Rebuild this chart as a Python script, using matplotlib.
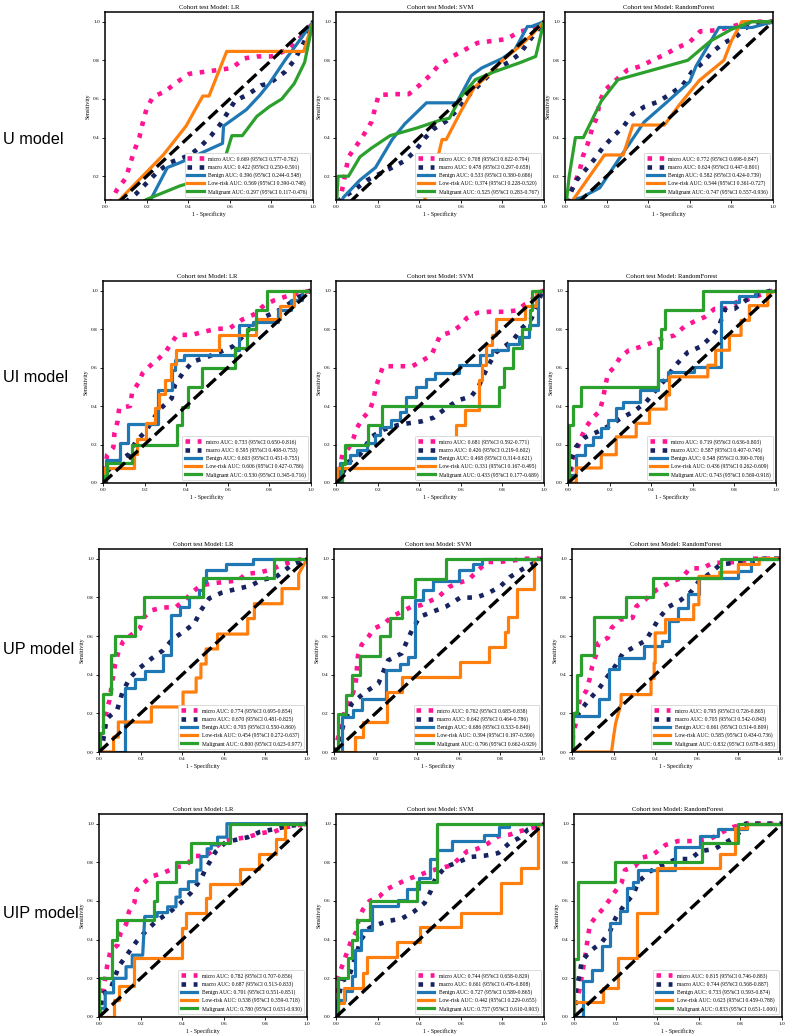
"""
ROC grid: four feature sets (U / UI / UP / UIP) x three classifiers,
micro/macro average plus one curve per class on the test cohort.
"""
import matplotlib
matplotlib.use("Agg")
import matplotlib.pyplot as plt

plt.rcParams["font.family"] = ["Liberation Serif", "DejaVu Serif"]

ROW_NAMES = ["U model", "UI model", "UP model", "UIP model"]
MODELS = ["LR", "SVM", "RandomForest"]
CURVE_NAMES = ["micro", "macro", "Benign", "Low-risk", "Malignant"]

# AUC, CI low, CI high per model (LR, SVM, RF), order as CURVE_NAMES
U_AUC = [[0.669, 0.422, 0.396, 0.569, 0.297], [0.708, 0.478, 0.533, 0.374, 0.525], [0.772, 0.624, 0.582, 0.544, 0.747]]
U_LO = [[0.577, 0.250, 0.244, 0.390, 0.117], [0.622, 0.297, 0.380, 0.228, 0.283], [0.698, 0.447, 0.424, 0.361, 0.557]]
U_HI = [[0.762, 0.591, 0.548, 0.748, 0.476], [0.794, 0.658, 0.686, 0.520, 0.767], [0.847, 0.801, 0.739, 0.727, 0.936]]
UI_AUC = [[0.733, 0.595, 0.603, 0.606, 0.530], [0.681, 0.426, 0.468, 0.331, 0.433], [0.719, 0.587, 0.548, 0.436, 0.743]]
UI_LO = [[0.650, 0.408, 0.451, 0.427, 0.345], [0.592, 0.219, 0.314, 0.167, 0.177], [0.636, 0.407, 0.390, 0.262, 0.569]]
UI_HI = [[0.816, 0.753, 0.755, 0.786, 0.716], [0.771, 0.602, 0.621, 0.495, 0.689], [0.803, 0.745, 0.706, 0.609, 0.918]]
UP_AUC = [[0.774, 0.670, 0.705, 0.454, 0.800], [0.762, 0.642, 0.686, 0.394, 0.796], [0.795, 0.705, 0.661, 0.585, 0.832]]
UP_LO = [[0.695, 0.481, 0.550, 0.272, 0.623], [0.685, 0.464, 0.533, 0.197, 0.662], [0.726, 0.542, 0.514, 0.434, 0.678]]
UP_HI = [[0.854, 0.825, 0.860, 0.637, 0.977], [0.838, 0.786, 0.840, 0.590, 0.929], [0.865, 0.843, 0.809, 0.736, 0.985]]
UIP_AUC = [[0.782, 0.687, 0.701, 0.538, 0.780], [0.744, 0.661, 0.727, 0.442, 0.757], [0.815, 0.744, 0.733, 0.623, 0.833]]
UIP_LO = [[0.707, 0.513, 0.551, 0.359, 0.631], [0.658, 0.476, 0.589, 0.229, 0.610], [0.746, 0.568, 0.593, 0.459, 0.651]]
UIP_HI = [[0.856, 0.833, 0.851, 0.718, 0.930], [0.829, 0.808, 0.865, 0.655, 0.903], [0.883, 0.887, 0.874, 0.788, 1.000]]

# ---- ROC curves, (fpr, tpr) pairs ----
U_LR_MICRO = [(0, 0), (0.03, 0.07), (0.056, 0.128), (0.10, 0.19), (0.12, 0.26), (0.14, 0.33), (0.165, 0.40), (0.18, 0.47), (0.20, 0.55), (0.23, 0.61), (0.29, 0.64), (0.35, 0.69), (0.405, 0.73), (0.475, 0.74), (0.545, 0.75), (0.61, 0.76), (0.67, 0.81), (0.73, 0.82), (0.80, 0.82), (0.89, 0.86), (0.95, 0.93), (1, 1)]
U_LR_MACRO = [(0, 0), (0.08, 0.05), (0.15, 0.11), (0.20, 0.165), (0.25, 0.22), (0.31, 0.27), (0.41, 0.31), (0.465, 0.36), (0.51, 0.41), (0.555, 0.47), (0.59, 0.53), (0.625, 0.59), (0.69, 0.625), (0.75, 0.67), (0.79, 0.68), (0.865, 0.74), (0.91, 0.80), (0.96, 0.90), (1, 1)]
U_LR_BENIGN = [(0, 0), (0.17, 0), (0.22, 0.08), (0.30, 0.245), (0.36, 0.27), (0.565, 0.37), (0.57, 0.46), (0.68, 0.545), (0.745, 0.62), (0.79, 0.68), (0.865, 0.80), (0.94, 0.91), (1, 1)]
U_LR_LOW = [(0, 0), (0.28, 0.31), (0.39, 0.46), (0.47, 0.615), (0.50, 0.615), (0.585, 0.846), (0.955, 0.846), (1, 1)]
U_LR_MAL = [(0, 0), (0.12, 0.03), (0.2, 0.08), (0.36, 0.15), (0.553, 0.21), (0.61, 0.41), (0.66, 0.41), (0.73, 0.51), (0.79, 0.56), (0.85, 0.60), (0.91, 0.68), (0.96, 0.79), (1, 1)]

U_SVM_MICRO = [(0, 0), (0.02, 0.08), (0.036, 0.165), (0.06, 0.30), (0.125, 0.40), (0.17, 0.48), (0.19, 0.56), (0.205, 0.62), (0.28, 0.625), (0.35, 0.625), (0.40, 0.67), (0.45, 0.72), (0.49, 0.77), (0.56, 0.82), (0.62, 0.855), (0.68, 0.89), (0.75, 0.90), (0.82, 0.91), (0.885, 0.95), (0.94, 0.96), (1, 1)]
U_SVM_MACRO = [(0, 0), (0.02, 0.08), (0.09, 0.13), (0.15, 0.18), (0.205, 0.21), (0.27, 0.245), (0.33, 0.28), (0.38, 0.33), (0.43, 0.40), (0.47, 0.445), (0.53, 0.485), (0.585, 0.545), (0.64, 0.62), (0.70, 0.685), (0.76, 0.75), (0.83, 0.79), (0.885, 0.835), (0.925, 0.895), (1, 1)]
U_SVM_BENIGN = [(0, 0), (0.035, 0.09), (0.115, 0.18), (0.19, 0.245), (0.27, 0.39), (0.33, 0.47), (0.435, 0.58), (0.58, 0.58), (0.65, 0.72), (0.70, 0.76), (0.80, 0.81), (0.86, 0.855), (0.92, 0.975), (0.94, 0.975), (1, 1)]
U_SVM_LOW = [(0, 0), (0.40, 0), (0.45, 0.15), (0.49, 0.30), (0.51, 0.39), (0.53, 0.39), (0.60, 0.535), (0.665, 0.66), (0.73, 0.72), (0.80, 0.80), (0.875, 0.865), (0.94, 0.93), (1, 1)]
U_SVM_MAL = [(0, 0), (0.01, 0.20), (0.06, 0.20), (0.115, 0.30), (0.17, 0.345), (0.26, 0.41), (0.39, 0.45), (0.50, 0.49), (0.545, 0.50), (0.60, 0.61), (0.67, 0.70), (0.76, 0.74), (0.89, 0.79), (0.96, 0.82), (1, 1)]

U_RF_MICRO = [(0, 0), (0.024, 0.11), (0.07, 0.225), (0.085, 0.30), (0.11, 0.37), (0.13, 0.445), (0.155, 0.51), (0.167, 0.59), (0.196, 0.65), (0.247, 0.70), (0.30, 0.75), (0.366, 0.77), (0.42, 0.80), (0.48, 0.83), (0.54, 0.865), (0.60, 0.895), (0.65, 0.95), (0.72, 0.955), (0.79, 0.97), (0.85, 0.99), (0.92, 1.0), (1, 1)]
U_RF_MACRO = [(0, 0), (0.024, 0.11), (0.056, 0.18), (0.096, 0.23), (0.143, 0.29), (0.183, 0.35), (0.236, 0.41), (0.283, 0.46), (0.323, 0.52), (0.382, 0.56), (0.446, 0.585), (0.506, 0.625), (0.565, 0.67), (0.61, 0.74), (0.66, 0.785), (0.705, 0.84), (0.764, 0.89), (0.82, 0.92), (0.873, 0.97), (0.92, 0.99), (1, 1)]
U_RF_BENIGN = [(0, 0), (0.04, 0.08), (0.08, 0.09), (0.167, 0.14), (0.26, 0.29), (0.38, 0.48), (0.486, 0.58), (0.60, 0.69), (0.63, 0.77), (0.74, 0.97), (0.90, 0.97), (1, 1)]
U_RF_LOW = [(0, 0), (0.04, 0.08), (0.19, 0.31), (0.28, 0.31), (0.326, 0.465), (0.478, 0.465), (0.55, 0.57), (0.645, 0.695), (0.764, 0.80), (0.80, 0.90), (0.85, 1.0), (1, 1)]
U_RF_MAL = [(0, 0), (0.02, 0.2), (0.05, 0.40), (0.088, 0.40), (0.175, 0.59), (0.255, 0.70), (0.59, 0.80), (0.70, 0.90), (0.80, 0.96), (0.90, 1.0), (1, 1)]

UI_LR_MICRO = [(0, 0), (0.01, 0.08), (0.02, 0.147), (0.05, 0.185), (0.055, 0.259), (0.07, 0.32), (0.078, 0.39), (0.13, 0.40), (0.14, 0.47), (0.17, 0.52), (0.19, 0.57), (0.227, 0.61), (0.266, 0.645), (0.30, 0.68), (0.33, 0.73), (0.357, 0.77), (0.426, 0.77), (0.48, 0.785), (0.54, 0.80), (0.61, 0.805), (0.67, 0.85), (0.724, 0.875), (0.777, 0.926), (0.824, 0.95), (0.91, 0.98), (1, 1)]
UI_LR_MACRO = [(0, 0), (0.02, 0.06), (0.05, 0.095), (0.125, 0.15), (0.16, 0.22), (0.205, 0.267), (0.24, 0.33), (0.27, 0.38), (0.33, 0.44), (0.346, 0.51), (0.383, 0.57), (0.43, 0.63), (0.50, 0.655), (0.56, 0.68), (0.625, 0.71), (0.67, 0.76), (0.72, 0.82), (0.77, 0.86), (0.86, 0.905), (0.93, 0.96), (1, 1)]
UI_LR_BENIGN = [(0, 0), (0.016, 0), (0.016, 0.12), (0.08, 0.12), (0.08, 0.207), (0.12, 0.207), (0.12, 0.305), (0.265, 0.305), (0.265, 0.483), (0.33, 0.483), (0.33, 0.586), (0.345, 0.586), (0.345, 0.638), (0.39, 0.638), (0.39, 0.667), (0.635, 0.667), (0.635, 0.69), (0.655, 0.69), (0.655, 0.82), (0.72, 0.82), (0.72, 0.835), (0.84, 0.835), (0.84, 0.897), (0.905, 0.897), (0.905, 0.95), (0.955, 0.95), (0.955, 1.0), (1, 1)]
UI_LR_LOW = [(0, 0), (0.003, 0), (0.003, 0.078), (0.147, 0.078), (0.147, 0.15), (0.163, 0.15), (0.163, 0.23), (0.205, 0.23), (0.205, 0.31), (0.25, 0.31), (0.25, 0.39), (0.268, 0.39), (0.268, 0.465), (0.297, 0.465), (0.297, 0.535), (0.325, 0.535), (0.325, 0.617), (0.35, 0.617), (0.35, 0.69), (0.557, 0.69), (0.557, 0.77), (0.737, 0.77), (0.737, 0.85), (0.85, 0.85), (0.85, 0.92), (0.92, 0.92), (0.92, 1.0), (1, 1)]
UI_LR_MAL = [(0, 0), (0.003, 0), (0.003, 0.035), (0.02, 0.035), (0.02, 0.103), (0.14, 0.103), (0.14, 0.20), (0.354, 0.20), (0.354, 0.30), (0.38, 0.30), (0.38, 0.397), (0.41, 0.397), (0.41, 0.50), (0.474, 0.50), (0.474, 0.60), (0.633, 0.60), (0.633, 0.70), (0.69, 0.70), (0.69, 0.80), (0.737, 0.80), (0.737, 0.90), (0.79, 0.90), (0.79, 1.0), (1, 1)]

UI_SVM_MICRO = [(0, 0), (0.02, 0.078), (0.03, 0.147), (0.06, 0.18), (0.083, 0.23), (0.10, 0.285), (0.128, 0.336), (0.16, 0.374), (0.18, 0.43), (0.19, 0.495), (0.206, 0.543), (0.226, 0.607), (0.298, 0.607), (0.367, 0.607), (0.41, 0.633), (0.458, 0.664), (0.48, 0.715), (0.50, 0.767), (0.553, 0.784), (0.60, 0.819), (0.628, 0.857), (0.68, 0.885), (0.737, 0.89), (0.81, 0.89), (0.87, 0.897), (0.91, 0.93), (0.93, 0.94), (0.976, 0.99), (1, 1)]
UI_SVM_MACRO = [(0, 0), (0.02, 0.026), (0.06, 0.11), (0.115, 0.147), (0.17, 0.24), (0.226, 0.276), (0.293, 0.30), (0.346, 0.31), (0.41, 0.32), (0.47, 0.34), (0.53, 0.39), (0.587, 0.43), (0.65, 0.45), (0.685, 0.50), (0.71, 0.56), (0.737, 0.62), (0.77, 0.68), (0.85, 0.74), (0.89, 0.80), (0.94, 0.855), (0.99, 0.99), (1, 1)]
UI_SVM_BENIGN = [(0, 0), (0.02, 0), (0.02, 0.103), (0.067, 0.103), (0.067, 0.147), (0.10, 0.147), (0.10, 0.172), (0.147, 0.172), (0.147, 0.207), (0.187, 0.207), (0.187, 0.25), (0.21, 0.25), (0.21, 0.293), (0.266, 0.293), (0.266, 0.328), (0.306, 0.328), (0.306, 0.37), (0.338, 0.37), (0.338, 0.448), (0.385, 0.448), (0.385, 0.50), (0.434, 0.50), (0.434, 0.543), (0.474, 0.543), (0.474, 0.574), (0.593, 0.574), (0.593, 0.613), (0.69, 0.613), (0.69, 0.664), (0.75, 0.664), (0.75, 0.693), (0.828, 0.693), (0.828, 0.724), (0.88, 0.724), (0.88, 0.76), (0.93, 0.76), (0.93, 0.82), (0.97, 0.82), (0.97, 1.0), (1, 1)]
UI_SVM_LOW = [(0, 0), (0.003, 0), (0.003, 0.078), (0.577, 0.078), (0.577, 0.30), (0.62, 0.30), (0.62, 0.38), (0.688, 0.38), (0.688, 0.535), (0.70, 0.535), (0.70, 0.613), (0.72, 0.613), (0.72, 0.715), (0.75, 0.715), (0.75, 0.767), (0.77, 0.767), (0.77, 0.85), (0.91, 0.85), (0.91, 0.92), (0.96, 0.92), (0.96, 1.0), (1, 1)]
UI_SVM_MAL = [(0, 0), (0.027, 0), (0.027, 0.10), (0.043, 0.10), (0.043, 0.20), (0.155, 0.20), (0.155, 0.30), (0.22, 0.30), (0.22, 0.40), (0.785, 0.40), (0.785, 0.50), (0.81, 0.50), (0.81, 0.60), (0.85, 0.60), (0.85, 0.70), (0.896, 0.70), (0.896, 0.80), (0.935, 0.80), (0.935, 0.90), (0.94, 0.90), (0.94, 1.0), (1, 1)]

UI_RF_MICRO = [(0, 0), (0.016, 0.07), (0.035, 0.126), (0.048, 0.19), (0.069, 0.25), (0.088, 0.293), (0.117, 0.336), (0.152, 0.374), (0.168, 0.436), (0.179, 0.503), (0.192, 0.569), (0.224, 0.603), (0.251, 0.655), (0.293, 0.69), (0.347, 0.707), (0.405, 0.73), (0.448, 0.75), (0.512, 0.767), (0.56, 0.814), (0.608, 0.84), (0.656, 0.862), (0.704, 0.905), (0.76, 0.908), (0.811, 0.94), (0.872, 0.957), (0.93, 0.98), (0.984, 1.0), (1, 1)]
UI_RF_MACRO = [(0, 0), (0.016, 0.12), (0.04, 0.19), (0.08, 0.236), (0.144, 0.267), (0.203, 0.30), (0.253, 0.336), (0.32, 0.374), (0.376, 0.422), (0.416, 0.474), (0.464, 0.534), (0.517, 0.612), (0.576, 0.68), (0.64, 0.71), (0.688, 0.76), (0.725, 0.81), (0.752, 0.90), (0.80, 0.905), (0.856, 0.95), (0.912, 0.98), (0.976, 1.0), (1, 1)]
UI_RF_BENIGN = [(0, 0), (0.01, 0), (0.01, 0.04), (0.037, 0.04), (0.037, 0.147), (0.08, 0.147), (0.08, 0.195), (0.12, 0.195), (0.12, 0.24), (0.157, 0.24), (0.157, 0.284), (0.192, 0.284), (0.192, 0.328), (0.232, 0.328), (0.232, 0.388), (0.264, 0.388), (0.264, 0.422), (0.344, 0.422), (0.344, 0.483), (0.432, 0.483), (0.432, 0.534), (0.48, 0.534), (0.48, 0.578), (0.608, 0.578), (0.608, 0.603), (0.736, 0.603), (0.736, 0.94), (0.824, 0.94), (0.824, 0.974), (0.904, 0.974), (0.904, 1.0), (1, 1)]
UI_RF_LOW = [(0, 0), (0.04, 0), (0.04, 0.078), (0.16, 0.078), (0.16, 0.147), (0.232, 0.147), (0.232, 0.24), (0.328, 0.24), (0.328, 0.31), (0.392, 0.31), (0.392, 0.384), (0.472, 0.384), (0.472, 0.457), (0.488, 0.457), (0.488, 0.552), (0.672, 0.552), (0.672, 0.612), (0.71, 0.612), (0.71, 0.69), (0.776, 0.69), (0.776, 0.767), (0.832, 0.767), (0.832, 0.845), (0.872, 0.845), (0.872, 0.922), (0.96, 0.922), (0.96, 0.983), (1, 1)]
UI_RF_MAL = [(0, 0), (0.003, 0), (0.003, 0.30), (0.024, 0.30), (0.024, 0.40), (0.064, 0.40), (0.064, 0.50), (0.432, 0.50), (0.432, 0.70), (0.448, 0.70), (0.448, 0.80), (0.464, 0.80), (0.464, 0.90), (0.648, 0.90), (0.648, 1.0), (1, 1)]

UP_LR_MICRO = [(0, 0), (0.01, 0.06), (0.02, 0.10), (0.037, 0.215), (0.05, 0.267), (0.065, 0.37), (0.077, 0.45), (0.093, 0.517), (0.116, 0.572), (0.156, 0.607), (0.196, 0.638), (0.215, 0.695), (0.252, 0.733), (0.308, 0.747), (0.37, 0.75), (0.41, 0.784), (0.45, 0.828), (0.49, 0.862), (0.555, 0.874), (0.61, 0.88), (0.67, 0.888), (0.707, 0.922), (0.77, 0.928), (0.835, 0.946), (0.88, 0.97), (0.93, 0.985), (0.98, 1.0), (1, 1)]
UP_LR_MACRO = [(0, 0), (0.02, 0.06), (0.037, 0.172), (0.088, 0.22), (0.113, 0.31), (0.148, 0.383), (0.196, 0.435), (0.252, 0.483), (0.308, 0.526), (0.356, 0.586), (0.404, 0.62), (0.46, 0.667), (0.49, 0.733), (0.53, 0.795), (0.59, 0.824), (0.66, 0.843), (0.73, 0.86), (0.78, 0.89), (0.85, 0.905), (0.93, 0.97), (1, 1)]
UP_LR_BENIGN = [(0, 0), (0.124, 0), (0.124, 0.33), (0.172, 0.33), (0.172, 0.38), (0.22, 0.38), (0.22, 0.42), (0.308, 0.42), (0.308, 0.50), (0.348, 0.50), (0.348, 0.71), (0.39, 0.71), (0.39, 0.75), (0.435, 0.75), (0.435, 0.80), (0.48, 0.80), (0.48, 0.84), (0.50, 0.84), (0.50, 0.88), (0.515, 0.88), (0.515, 0.94), (0.61, 0.94), (0.61, 0.97), (0.74, 0.97), (0.74, 1.0), (1, 1)]
UP_LR_LOW = [(0, 0), (0.07, 0), (0.07, 0.077), (0.093, 0.077), (0.093, 0.155), (0.252, 0.155), (0.252, 0.233), (0.404, 0.233), (0.404, 0.31), (0.467, 0.31), (0.467, 0.383), (0.49, 0.383), (0.49, 0.455), (0.515, 0.455), (0.515, 0.533), (0.57, 0.533), (0.57, 0.61), (0.715, 0.61), (0.715, 0.69), (0.747, 0.69), (0.747, 0.767), (0.88, 0.767), (0.88, 0.845), (0.96, 0.845), (0.96, 0.92), (1, 1)]
UP_LR_MAL = [(0, 0), (0.005, 0), (0.005, 0.1), (0.02, 0.1), (0.02, 0.3), (0.06, 0.3), (0.06, 0.5), (0.077, 0.5), (0.077, 0.60), (0.172, 0.60), (0.172, 0.70), (0.215, 0.70), (0.215, 0.80), (0.5, 0.80), (0.5, 0.90), (0.84, 0.90), (0.84, 1.0), (1, 1)]

UP_SVM_MICRO = [(0, 0), (0.016, 0.06), (0.037, 0.147), (0.053, 0.215), (0.09, 0.30), (0.104, 0.353), (0.11, 0.43), (0.115, 0.497), (0.133, 0.555), (0.165, 0.595), (0.192, 0.638), (0.242, 0.664), (0.277, 0.70), (0.37, 0.75), (0.42, 0.76), (0.50, 0.80), (0.555, 0.855), (0.60, 0.875), (0.645, 0.89), (0.694, 0.94), (0.734, 0.983), (0.795, 0.983), (0.862, 0.991), (0.926, 1.0), (1, 1)]
UP_SVM_MACRO = [(0, 0), (0.03, 0.06), (0.042, 0.13), (0.085, 0.25), (0.15, 0.31), (0.213, 0.353), (0.26, 0.474), (0.325, 0.51), (0.35, 0.572), (0.378, 0.638), (0.413, 0.70), (0.485, 0.73), (0.54, 0.753), (0.605, 0.797), (0.686, 0.80), (0.742, 0.822), (0.80, 0.857), (0.846, 0.905), (0.91, 0.948), (1, 1)]
UP_SVM_BENIGN = [(0, 0), (0.037, 0), (0.037, 0.18), (0.093, 0.18), (0.093, 0.215), (0.133, 0.215), (0.133, 0.272), (0.25, 0.272), (0.25, 0.422), (0.317, 0.422), (0.317, 0.457), (0.357, 0.457), (0.357, 0.49), (0.39, 0.49), (0.39, 0.788), (0.43, 0.788), (0.43, 0.836), (0.478, 0.836), (0.478, 0.883), (0.60, 0.883), (0.60, 0.94), (0.67, 0.94), (0.67, 0.974), (0.71, 0.974), (0.71, 1.0), (1, 1)]
UP_SVM_LOW = [(0, 0), (0.1, 0), (0.1, 0.077), (0.141, 0.077), (0.141, 0.155), (0.253, 0.155), (0.253, 0.31), (0.325, 0.31), (0.325, 0.388), (0.606, 0.388), (0.606, 0.466), (0.747, 0.466), (0.747, 0.543), (0.82, 0.543), (0.82, 0.62), (0.838, 0.62), (0.838, 0.70), (0.878, 0.70), (0.878, 0.845), (0.96, 0.845), (0.96, 1.0), (1, 1)]
UP_SVM_MAL = [(0, 0), (0.02, 0), (0.02, 0.195), (0.06, 0.195), (0.06, 0.293), (0.085, 0.293), (0.085, 0.397), (0.125, 0.397), (0.125, 0.497), (0.22, 0.497), (0.22, 0.598), (0.27, 0.598), (0.27, 0.695), (0.325, 0.695), (0.325, 0.80), (0.39, 0.80), (0.39, 0.897), (0.54, 0.897), (0.54, 1.0), (1, 1)]

UP_RF_MICRO = [(0, 0), (0.005, 0.09), (0.017, 0.143), (0.037, 0.272), (0.068, 0.315), (0.084, 0.375), (0.097, 0.444), (0.116, 0.504), (0.127, 0.565), (0.172, 0.59), (0.191, 0.642), (0.231, 0.685), (0.291, 0.694), (0.31, 0.754), (0.352, 0.788), (0.408, 0.84), (0.48, 0.883), (0.53, 0.90), (0.565, 0.95), (0.626, 0.95), (0.677, 0.978), (0.75, 0.98), (0.81, 0.985), (0.873, 1.0), (1, 1)]
UP_RF_MACRO = [(0, 0), (0.005, 0.143), (0.037, 0.21), (0.076, 0.263), (0.127, 0.324), (0.172, 0.392), (0.21, 0.448), (0.244, 0.51), (0.3, 0.544), (0.355, 0.577), (0.42, 0.694), (0.463, 0.75), (0.522, 0.785), (0.57, 0.826), (0.61, 0.883), (0.666, 0.926), (0.713, 0.97), (0.777, 0.978), (0.85, 0.98), (0.92, 1.0), (1, 1)]
UP_RF_BENIGN = [(0, 0), (0.005, 0), (0.005, 0.186), (0.132, 0.186), (0.132, 0.275), (0.177, 0.275), (0.177, 0.427), (0.225, 0.427), (0.225, 0.487), (0.347, 0.487), (0.347, 0.547), (0.431, 0.547), (0.431, 0.573), (0.467, 0.573), (0.467, 0.676), (0.511, 0.676), (0.511, 0.745), (0.56, 0.745), (0.56, 0.817), (0.61, 0.817), (0.61, 0.898), (0.80, 0.898), (0.80, 0.935), (0.86, 0.935), (0.86, 1.0), (1, 1)]
UP_RF_LOW = [(0, 0), (0.19, 0), (0.2, 0.08), (0.21, 0.15), (0.236, 0.25), (0.236, 0.297), (0.38, 0.297), (0.38, 0.38), (0.395, 0.38), (0.395, 0.46), (0.4, 0.46), (0.4, 0.616), (0.45, 0.616), (0.45, 0.685), (0.585, 0.685), (0.585, 0.762), (0.61, 0.762), (0.61, 0.908), (0.71, 0.908), (0.71, 0.93), (0.8, 0.93), (0.8, 0.97), (0.9, 0.97), (0.9, 1.0), (1, 1)]
UP_RF_MAL = [(0, 0), (0.005, 0), (0.005, 0.2), (0.024, 0.2), (0.024, 0.40), (0.045, 0.40), (0.045, 0.50), (0.108, 0.50), (0.108, 0.697), (0.26, 0.697), (0.26, 0.80), (0.39, 0.80), (0.39, 0.898), (0.718, 0.898), (0.718, 1.0), (1, 1)]

UIP_LR_MICRO = [(0, 0), (0.006, 0.09), (0.02, 0.14), (0.03, 0.2), (0.04, 0.27), (0.055, 0.34), (0.09, 0.373), (0.103, 0.43), (0.13, 0.48), (0.144, 0.545), (0.17, 0.59), (0.18, 0.656), (0.216, 0.694), (0.248, 0.725), (0.31, 0.746), (0.377, 0.777), (0.418, 0.782), (0.458, 0.833), (0.515, 0.833), (0.595, 0.909), (0.65, 0.92), (0.713, 0.93), (0.765, 0.947), (0.813, 0.957), (0.84, 0.957), (0.89, 0.98), (1, 1)]
UIP_LR_MACRO = [(0, 0), (0.01, 0.04), (0.015, 0.12), (0.055, 0.14), (0.075, 0.206), (0.10, 0.27), (0.14, 0.33), (0.18, 0.39), (0.23, 0.45), (0.28, 0.50), (0.337, 0.54), (0.39, 0.588), (0.44, 0.64), (0.49, 0.713), (0.51, 0.76), (0.56, 0.854), (0.61, 0.905), (0.716, 0.93), (0.773, 0.957), (0.926, 0.99), (1, 1)]
UIP_LR_BENIGN = [(0, 0), (0.01, 0.045), (0.03, 0.045), (0.03, 0.125), (0.07, 0.125), (0.07, 0.20), (0.13, 0.20), (0.13, 0.26), (0.16, 0.26), (0.16, 0.32), (0.21, 0.32), (0.22, 0.52), (0.28, 0.52), (0.28, 0.54), (0.33, 0.54), (0.33, 0.57), (0.37, 0.57), (0.37, 0.62), (0.39, 0.62), (0.39, 0.66), (0.43, 0.66), (0.43, 0.70), (0.47, 0.70), (0.47, 0.76), (0.49, 0.76), (0.49, 0.83), (0.52, 0.83), (0.52, 0.87), (0.54, 0.87), (0.54, 0.89), (0.57, 0.89), (0.57, 0.93), (0.615, 0.93), (0.615, 1.0), (1, 1)]
UIP_LR_LOW = [(0, 0), (0.07, 0), (0.07, 0.09), (0.095, 0.09), (0.095, 0.158), (0.168, 0.158), (0.168, 0.304), (0.40, 0.304), (0.40, 0.46), (0.418, 0.46), (0.418, 0.536), (0.515, 0.536), (0.515, 0.613), (0.535, 0.613), (0.535, 0.69), (0.68, 0.69), (0.68, 0.768), (0.77, 0.768), (0.77, 0.845), (0.853, 0.845), (0.853, 0.92), (0.893, 0.92), (0.893, 1.0), (1, 1)]
UIP_LR_MAL = [(0, 0), (0, 0.2), (0.063, 0.2), (0.063, 0.40), (0.087, 0.40), (0.087, 0.50), (0.265, 0.50), (0.265, 0.60), (0.28, 0.60), (0.28, 0.70), (0.37, 0.70), (0.37, 0.80), (0.44, 0.80), (0.44, 0.90), (0.63, 0.90), (0.63, 1.0), (1, 1)]

UIP_SVM_MICRO = [(0, 0), (0.006, 0.1), (0.011, 0.21), (0.035, 0.28), (0.055, 0.34), (0.071, 0.39), (0.097, 0.44), (0.108, 0.50), (0.129, 0.555), (0.161, 0.60), (0.21, 0.625), (0.242, 0.66), (0.29, 0.685), (0.337, 0.71), (0.39, 0.73), (0.447, 0.753), (0.503, 0.77), (0.555, 0.784), (0.63, 0.857), (0.68, 0.87), (0.73, 0.897), (0.78, 0.935), (0.834, 0.943), (0.882, 0.96), (0.95, 0.98), (1, 1)]
UIP_SVM_MACRO = [(0, 0), (0.006, 0.07), (0.03, 0.19), (0.06, 0.2), (0.09, 0.3), (0.12, 0.4), (0.16, 0.46), (0.18, 0.47), (0.245, 0.495), (0.318, 0.51), (0.377, 0.547), (0.426, 0.59), (0.455, 0.65), (0.479, 0.72), (0.527, 0.776), (0.584, 0.80), (0.648, 0.828), (0.713, 0.834), (0.78, 0.848), (0.834, 0.90), (0.88, 0.926), (0.923, 0.97), (1, 1)]
UIP_SVM_BENIGN = [(0, 0), (0.006, 0), (0.006, 0.09), (0.044, 0.09), (0.044, 0.133), (0.076, 0.133), (0.076, 0.21), (0.09, 0.21), (0.09, 0.348), (0.12, 0.348), (0.12, 0.45), (0.173, 0.45), (0.173, 0.572), (0.30, 0.572), (0.30, 0.607), (0.342, 0.607), (0.342, 0.66), (0.40, 0.66), (0.40, 0.72), (0.452, 0.72), (0.452, 0.817), (0.484, 0.817), (0.484, 0.866), (0.56, 0.866), (0.56, 0.909), (0.713, 0.909), (0.713, 0.943), (0.785, 0.943), (0.785, 0.983), (0.83, 0.983), (0.83, 1.0), (1, 1)]
UIP_SVM_LOW = [(0, 0), (0.011, 0), (0.011, 0.07), (0.04, 0.07), (0.04, 0.15), (0.13, 0.15), (0.13, 0.23), (0.15, 0.23), (0.15, 0.31), (0.294, 0.31), (0.294, 0.386), (0.406, 0.386), (0.406, 0.463), (0.60, 0.463), (0.60, 0.538), (0.794, 0.538), (0.794, 0.693), (0.89, 0.693), (0.89, 0.77), (0.97, 0.77), (0.97, 1.0), (1, 1)]
UIP_SVM_MAL = [(0, 0), (0.011, 0), (0.011, 0.2), (0.06, 0.2), (0.06, 0.305), (0.076, 0.305), (0.076, 0.40), (0.1, 0.40), (0.1, 0.503), (0.165, 0.503), (0.165, 0.60), (0.39, 0.60), (0.39, 0.70), (0.484, 0.70), (0.484, 1.0), (1, 1)]

UIP_RF_MICRO = [(0, 0), (0.01, 0.08), (0.026, 0.14), (0.045, 0.26), (0.058, 0.34), (0.066, 0.41), (0.077, 0.478), (0.106, 0.52), (0.14, 0.56), (0.17, 0.605), (0.197, 0.648), (0.229, 0.695), (0.245, 0.76), (0.293, 0.78), (0.325, 0.823), (0.38, 0.84), (0.44, 0.89), (0.50, 0.91), (0.573, 0.91), (0.653, 0.92), (0.72, 0.96), (0.765, 0.983), (0.83, 1.0), (1, 1)]
UIP_RF_MACRO = [(0, 0), (0.01, 0.14), (0.026, 0.214), (0.037, 0.288), (0.077, 0.34), (0.133, 0.386), (0.173, 0.443), (0.2, 0.512), (0.24, 0.576), (0.285, 0.634), (0.31, 0.70), (0.365, 0.753), (0.43, 0.788), (0.493, 0.817), (0.56, 0.817), (0.605, 0.857), (0.677, 0.87), (0.725, 0.90), (0.78, 0.934), (0.826, 1.0), (1, 1)]
UIP_RF_BENIGN = [(0, 0), (0.045, 0), (0.045, 0.185), (0.085, 0.185), (0.085, 0.245), (0.133, 0.245), (0.133, 0.366), (0.173, 0.366), (0.173, 0.486), (0.22, 0.486), (0.22, 0.55), (0.253, 0.55), (0.253, 0.667), (0.282, 0.667), (0.282, 0.70), (0.31, 0.70), (0.31, 0.76), (0.485, 0.76), (0.485, 0.88), (0.605, 0.88), (0.605, 0.934), (0.693, 0.934), (0.693, 0.972), (0.83, 0.972), (0.83, 1.0), (1, 1)]
UIP_RF_LOW = [(0, 0), (0, 0.08), (0.14, 0.08), (0.14, 0.15), (0.213, 0.15), (0.213, 0.305), (0.304, 0.305), (0.304, 0.538), (0.397, 0.538), (0.397, 0.77), (0.70, 0.77), (0.70, 0.845), (0.773, 0.845), (0.773, 0.978), (0.83, 0.978), (0.83, 1.0), (1, 1)]
UIP_RF_MAL = [(0, 0), (0, 0.3), (0.02, 0.3), (0.02, 0.70), (0.197, 0.70), (0.197, 0.80), (0.613, 0.80), (0.613, 0.90), (0.79, 0.90), (0.79, 1.0), (1, 1)]

ROWS = [
    (U_AUC, U_LO, U_HI, [
        [U_LR_MICRO, U_LR_MACRO, U_LR_BENIGN, U_LR_LOW, U_LR_MAL],
        [U_SVM_MICRO, U_SVM_MACRO, U_SVM_BENIGN, U_SVM_LOW, U_SVM_MAL],
        [U_RF_MICRO, U_RF_MACRO, U_RF_BENIGN, U_RF_LOW, U_RF_MAL]]),
    (UI_AUC, UI_LO, UI_HI, [
        [UI_LR_MICRO, UI_LR_MACRO, UI_LR_BENIGN, UI_LR_LOW, UI_LR_MAL],
        [UI_SVM_MICRO, UI_SVM_MACRO, UI_SVM_BENIGN, UI_SVM_LOW, UI_SVM_MAL],
        [UI_RF_MICRO, UI_RF_MACRO, UI_RF_BENIGN, UI_RF_LOW, UI_RF_MAL]]),
    (UP_AUC, UP_LO, UP_HI, [
        [UP_LR_MICRO, UP_LR_MACRO, UP_LR_BENIGN, UP_LR_LOW, UP_LR_MAL],
        [UP_SVM_MICRO, UP_SVM_MACRO, UP_SVM_BENIGN, UP_SVM_LOW, UP_SVM_MAL],
        [UP_RF_MICRO, UP_RF_MACRO, UP_RF_BENIGN, UP_RF_LOW, UP_RF_MAL]]),
    (UIP_AUC, UIP_LO, UIP_HI, [
        [UIP_LR_MICRO, UIP_LR_MACRO, UIP_LR_BENIGN, UIP_LR_LOW, UIP_LR_MAL],
        [UIP_SVM_MICRO, UIP_SVM_MACRO, UIP_SVM_BENIGN, UIP_SVM_LOW, UIP_SVM_MAL],
        [UIP_RF_MICRO, UIP_RF_MACRO, UIP_RF_BENIGN, UIP_RF_LOW, UIP_RF_MAL]]),
]

COLORS = ["deeppink", "#16235e", "tab:blue", "tab:orange", "tab:green"]
STYLES = [":", ":", "-", "-", "-"]
WIDTHS = [3.3, 3.3, 2.3, 2.3, 2.3]

# layout in pixels (figure is 788 x 1036)
W, H = 788, 1036
ROW_TOP = [12, 281, 549, 814]
ROW_BOTTOM = [200, 483, 752, 1017]
ROW_LEFTS = [[105, 336, 565], [103, 336, 568], [99, 334, 572], [99, 336, 574]]
PANEL_W = 208
ROW_LABEL_Y = [140, 378, 650, 913]

fig = plt.figure(figsize=(W / 100, H / 100), dpi=100)

for r, (auc, lo, hi, panels) in enumerate(ROWS):
    fig.text(3 / W, 1 - ROW_LABEL_Y[r] / H, ROW_NAMES[r], family="Liberation Sans",
             fontsize=11.7, ha="left", va="center")
    for c in range(3):
        left = ROW_LEFTS[r][c]
        ax = fig.add_axes([left / W, 1 - ROW_BOTTOM[r] / H, PANEL_W / W,
                           (ROW_BOTTOM[r] - ROW_TOP[r]) / H])
        for k, pts in enumerate(panels[c]):
            xs = [p[0] for p in pts]
            ys = [p[1] for p in pts]
            lab = f"{CURVE_NAMES[k]} AUC: {auc[c][k]:.3f} (95%CI {lo[c][k]:.3f}-{hi[c][k]:.3f})"
            ax.plot(xs, ys, linestyle=STYLES[k], color=COLORS[k], lw=WIDTHS[k], label=lab)
        ax.plot([0, 1], [0, 1], "k--", lw=2.4)
        ax.set_xlim(0, 1)
        ax.set_ylim(0.077 if r == 0 else 0.0, 1.05)
        ax.set_xticks([0, 0.2, 0.4, 0.6, 0.8, 1.0])
        ax.set_yticks([0.2, 0.4, 0.6, 0.8, 1.0] if r == 0 else [0, 0.2, 0.4, 0.6, 0.8, 1.0])
        ax.tick_params(labelsize=3.8, length=2.2, width=0.6, pad=1.5)
        for sp in ax.spines.values():
            sp.set_linewidth(1.1)
        ax.set_xlabel("1 - Specificity", fontsize=4.2, labelpad=1.5)
        ax.set_ylabel("Sensitivity", fontsize=4.2, labelpad=2)
        ax.set_title(f"Cohort test Model: {MODELS[c]}", fontsize=4.8, pad=2.5)
        leg = ax.legend(loc="lower right", fontsize=4, handlelength=3,
                        labelspacing=0.45, borderpad=0.45, framealpha=1)
        leg.get_frame().set_linewidth(0.5)

fig.savefig("out.png", dpi=100)
